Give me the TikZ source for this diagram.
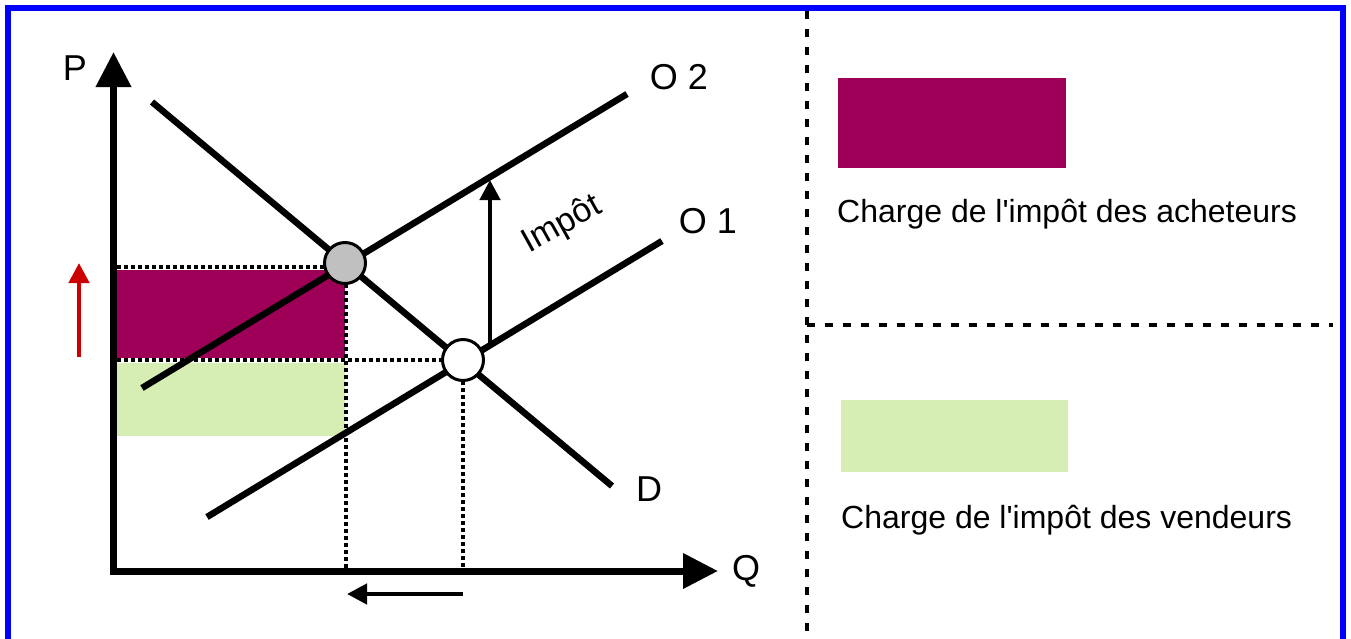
\documentclass[tikz,border=0pt]{standalone}
\usepackage{fontspec}
\setmainfont{Liberation Sans}
\usetikzlibrary{arrows.meta}
\definecolor{purp}{HTML}{9E0058}
\definecolor{lgreen}{HTML}{D6EDB4}
\definecolor{bblue}{HTML}{0000FF}
\definecolor{rred}{HTML}{CC0000}
\definecolor{eqgray}{HTML}{C0C0C0}
\begin{document}
\begin{tikzpicture}[x=1pt,y=-1pt,
  curve/.style={line width=6.5pt},
  axisline/.style={line width=7pt,-{Triangle[length=35pt,width=34pt]}},
  dotline/.style={line width=4pt,dash pattern=on 4pt off 3pt},
  sepline/.style={line width=4pt,dash pattern=on 8pt off 10pt},
  smallarrow/.style={line width=4.5pt,-{Triangle[length=20pt,width=20pt]}},
  lbl/.style={font=\fontsize{36}{40}\selectfont,inner sep=0pt},
  leg/.style={font=\fontsize{32}{36}\selectfont,inner sep=0pt,anchor=base west},
  eqpt/.style={circle,draw,line width=3pt,minimum size=41pt,inner sep=0pt}]
\useasboundingbox (0,0) rectangle (1351,638);
% frame
\draw[bblue,line width=6pt] (8,640) -- (8,8) -- (1343,8) -- (1343,640);
% surfaces
\fill[purp] (117,269.5) rectangle (345,357.5);
\fill[lgreen] (117,362.5) rectangle (345,436);
% coordinates
\coordinate (Dtop) at (152,102);
\coordinate (Dbot) at (612,486);
\coordinate (O2a) at (142,388);
\coordinate (O2b) at (627,94);
\coordinate (O1a) at (207,517);
\coordinate (O1b) at (662,241);
\coordinate (E2) at (345,263);
\coordinate (E1) at (463,360);
\coordinate (Yax) at (117,267);
\coordinate (Yax1) at (117,360);
\coordinate (Xax2) at (346,571);
\coordinate (Xax1) at (463,571);
% dotted guides
\draw[dotline] (Yax) -- (Yax -| E2);
\draw[dotline] (Yax1) -- (E1);
\draw[dotline] (Xax2 |- E2) -- (Xax2);
\draw[dotline] (E1) -- (Xax1);
% curves
\draw[curve] (Dtop) -- (Dbot);
\draw[curve] (O2a) -- (O2b);
\draw[curve] (O1a) -- (O1b);
% equilibria
\node[eqpt,fill=eqgray] (N2) at (E2) {};
\node[eqpt,fill=white] (N1) at (E1) {};
% tax arrow
\coordinate (Ibase) at (490,346);
\coordinate (Itip) at (490,180);
\draw[smallarrow] (Ibase) -- (Itip);
\node[font=\fontsize{34}{38}\selectfont,inner sep=0pt,rotate=29] (imp) at (562,225) {Impôt};
% axes
\coordinate (Origin) at (113.5,574.5);
\coordinate (Ytip) at (113.5,52);
\coordinate (Xstart) at (110,571);
\coordinate (Xtip) at (718,571);
\draw[axisline] (Origin) -- (Ytip);
\draw[axisline] (Xstart) -- (Xtip);
% small arrows
\coordinate (Ra) at (79,357);
\coordinate (Rb) at (79,263);
\draw[smallarrow,rred] (Ra) -- (Rb);
\coordinate (Qa) at (463,594);
\coordinate (Qb) at (347,594);
\draw[smallarrow] (Qa) -- (Qb);
% labels
\node[lbl] (P) at (75,68) {P};
\node[lbl] (Q) at (746,571) {Q};
\node[lbl] (D) at (649,489) {D};
\node[lbl] (O2) at (679,77) {O 2};
\node[lbl] (O1) at (708,221) {O 1};
% right panel
\coordinate (Va) at (806.5,11);
\coordinate (Vb) at (806.5,638);
\draw[sepline] (Va) -- (Vb);
\coordinate (Ha) at (806.5,325);
\coordinate (Hb) at (1333,325);
\draw[sepline] (Ha) -- (Hb);
\fill[purp] (838,78) rectangle (1066,168);
\fill[lgreen] (841,400) rectangle (1068,472);
\node[leg] (L1) at (837,222) {Charge de l\textquotesingle impôt des acheteurs};
\node[leg] (L2) at (841,528) {Charge de l\textquotesingle impôt des vendeurs};
\end{tikzpicture}
\end{document}
